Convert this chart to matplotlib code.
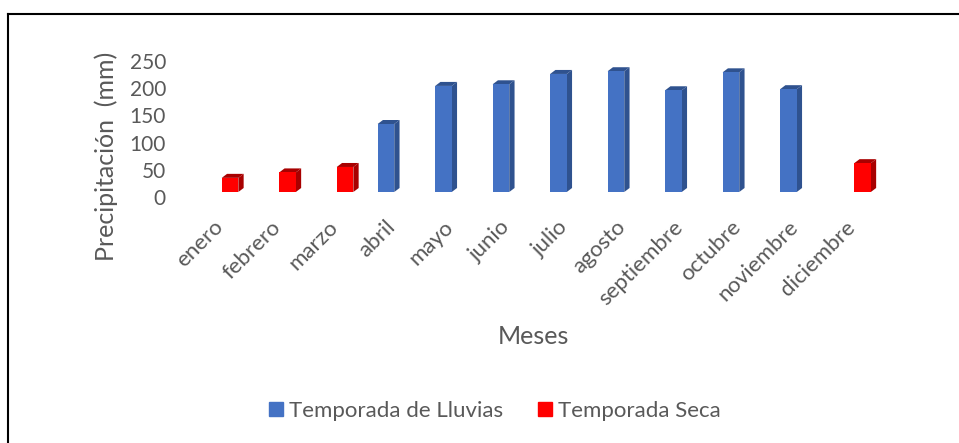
"""
Precipitacion mensual por temporada
"""

import numpy as np
import matplotlib
matplotlib.use("Agg")
import matplotlib.pyplot as plt
from matplotlib.lines import Line2D
from matplotlib.patches import Patch
from matplotlib.transforms import ScaledTranslation

meses = ['enero', 'febrero', 'marzo', 'abril', 'mayo', 'junio', 'julio',
         'agosto', 'septiembre', 'octubre', 'noviembre', 'diciembre']
lluvias = [0, 0, 0, 125, 195, 198, 217, 222, 187, 220, 189, 0]
seca = [26, 36, 46, 0, 0, 0, 0, 0, 0, 0, 0, 53]
y_ticks = [0, 50, 100, 150, 200, 250]

AZUL = '#4472C4'
AZUL_OSCURO = '#2F528F'
ROJO = '#FF0000'
ROJO_OSCURO = '#A80000'
TEXTO = '#595959'

W, H = 959, 443
plt.rcParams['font.family'] = ['Lato', 'DejaVu Sans']


def draw_bars(ax, x, values, width, front, dark):
    # Front face plus a faked 3D side and top
    dx = 5.3 / 57.5
    dy = 4 / 0.544
    for xi, v in zip(x, values):
        if v == 0:
            continue
        ax.bar(xi, v, width=width, color=front, align='edge', zorder=3)
        ax.fill([xi + width, xi + width + dx, xi + width + dx, xi + width],
                [0, dy, v + dy, v], color=dark, lw=0, zorder=2)
        ax.fill([xi, xi + dx, xi + width + dx, xi + width],
                [v, v + dy, v + dy, v], color=dark, lw=0, zorder=2)


fig = plt.figure(figsize=(W / 100, H / 100), dpi=100)
ax = fig.add_axes([193 / W, 1 - 192 / H, 690 / W, 136 / H])

x = np.arange(len(meses))
bar_w = 16.6 / 57.5
draw_bars(ax, x - bar_w, lluvias, bar_w, AZUL, AZUL_OSCURO)
draw_bars(ax, x, seca, bar_w, ROJO, ROJO_OSCURO)

ax.set_xlim(-0.5, 11.5)
ax.set_ylim(0, 250)
for side in ax.spines.values():
    side.set_visible(False)
ax.patch.set_alpha(0)

ax.set_yticks(y_ticks)
ax.tick_params(axis='y', length=0, pad=19.5, labelsize=15, labelcolor=TEXTO)
shift = ScaledTranslation(0, -5 / 100, fig.dpi_scale_trans)
for lab in ax.get_yticklabels():
    lab.set_transform(lab.get_transform() + shift)

ax.set_xticks(x)
ax.set_xticklabels(meses, rotation=45, ha='right', va='center',
                   rotation_mode='anchor')
ax.tick_params(axis='x', length=0, pad=23, labelsize=16, labelcolor=TEXTO)
shift_x = ScaledTranslation(-2 / 100, 0, fig.dpi_scale_trans)
for lab in ax.get_xticklabels():
    lab.set_transform(lab.get_transform() + shift_x)

fig.text(106 / W, 1 - 156.5 / H, 'Precipitación  (mm)', rotation=90, ha='center',
         va='center', fontsize=18, color=TEXTO)
fig.text(533.5 / W, 1 - 336 / H, 'Meses', ha='center', va='center',
         fontsize=18, color=TEXTO)

handles = [Patch(color=AZUL, label='Temporada de Lluvias'),
           Patch(color=ROJO, label='Temporada Seca')]
fig.legend(handles=handles, loc='center', bbox_to_anchor=(495 / W, 1 - 411 / H),
           ncol=2, frameon=False, fontsize=16, labelcolor=TEXTO,
           handlelength=0.63, handleheight=0.63, handletextpad=0.25,
           columnspacing=1.6)

# Chart area border, only top and left show in the crop
fig.add_artist(Line2D([8 / W, 1], [1 - 14 / H, 1 - 14 / H], color='black', lw=1.5,
                      transform=fig.transFigure))
fig.add_artist(Line2D([8 / W, 8 / W], [0, 1 - 14 / H], color='black', lw=1.5,
                      transform=fig.transFigure))

fig.savefig('out.png', dpi=100)
